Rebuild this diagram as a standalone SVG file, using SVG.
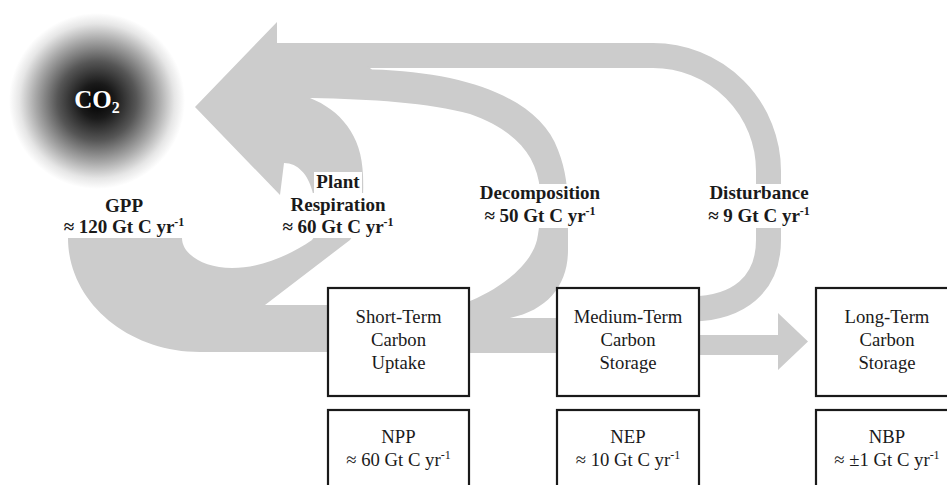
<svg xmlns="http://www.w3.org/2000/svg" width="947" height="485" viewBox="0 0 947 485">
<defs>
<radialGradient id="co2g" cx="0.5" cy="0.5" r="0.5">
<stop offset="0" stop-color="#000"/>
<stop offset="0.2" stop-color="#1a1a1a"/>
<stop offset="0.45" stop-color="#565656"/>
<stop offset="0.7" stop-color="#a8a8a8"/>
<stop offset="0.88" stop-color="#e6e6e6"/>
<stop offset="1" stop-color="#fff"/>
</radialGradient>
<style>
.flow{fill:#cccccc;stroke:none}
.flowline{fill:none;stroke:#cccccc}
.lblbg{fill:#fff;stroke:none}
.lbl{font-family:"Liberation Serif","Times New Roman",serif;font-weight:bold;font-size:19px;fill:#1a1a1a;text-anchor:middle}
.box{fill:#fff;stroke:#1a1a1a;stroke-width:2.2}
.bt{font-family:"Liberation Serif","Times New Roman",serif;font-size:18.7px;fill:#1a1a1a;text-anchor:middle}
.sup{font-size:12px}
</style>
</defs>
<rect x="0" y="0" width="947" height="485" fill="#fff"/>

<g id="node-co2">
<circle cx="97" cy="101" r="88" fill="url(#co2g)"/>
<text x="97" y="108" font-family="Liberation Serif, Times New Roman, serif" font-weight="bold" font-size="25" fill="#fff" text-anchor="middle">CO<tspan font-size="16" dy="5">2</tspan></text>
</g>

<g id="connectors">
<!-- GPP + plant respiration + main arrowhead -->
<path id="flow-gpp-respiration" class="flow" d="M68 238 L182 238 C182 254.6 204.4 268 232 268 C262 268 292 254 312 240 C322 228 316 205 312 190 C308 175 298 163 284 163 L280 195 L195 107 L277 22 L277 43 L312 43 L312 98 L310 98 C340 110 362 135 363 175 C364 205 362 225 350 240 L265 305 L335 305 L335 352 L200 352 C127 352 68 301 68 238 Z"/>
<!-- disturbance -->
<path id="flow-disturbance" class="flowline" stroke-width="25" d="M277 55.5 H653 A115.5 115.5 0 0 1 768.5 171 V240 C768.5 285 738 308 692 309"/>
<!-- decomposition -->
<path id="flow-decomposition" class="flow" d="M300 66 L367 66 L372 69.5 C470 72 540 100 558 150 C566 170 568 190 568 210 L568 250 C568 285 548 310 510 318 L465 318 L465 303 C495 292 530 268 537 240 C541 220 541 200 540 190 C537 155 515 130 470 114 C430 103 370 99 312 98 L300 98 Z"/>
<!-- short to medium -->
<rect id="flow-short-medium" class="flow" x="465" y="318" width="97" height="35"/>
<!-- medium to long -->
<polygon id="flow-medium-long" class="flow" points="695,335 778,335 778,313 808,341.5 778,370 778,355 695,355"/>

<g id="label-gpp">
<text class="lbl" x="124" y="212">GPP</text>
<text class="lbl" x="124" y="233">≈ 120 Gt C yr<tspan class="sup" dy="-7">-1</tspan></text>
</g>
<g id="label-respiration">
<rect class="lblbg" x="314" y="172" width="48" height="21"/>
<rect class="lblbg" x="287" y="193" width="102" height="22"/>
<rect class="lblbg" x="278" y="215" width="120" height="23"/>
<text class="lbl" x="338" y="188">Plant</text>
<text class="lbl" x="338" y="211">Respiration</text>
<text class="lbl" x="338" y="233">≈ 60 Gt C yr<tspan class="sup" dy="-7">-1</tspan></text>
</g>
<g id="label-decomposition">
<rect class="lblbg" x="476" y="184" width="128" height="44"/>
<text class="lbl" x="540" y="199">Decomposition</text>
<text class="lbl" x="540" y="222">≈ 50 Gt C yr<tspan class="sup" dy="-7">-1</tspan></text>
</g>
<g id="label-disturbance">
<rect class="lblbg" x="704" y="184" width="110" height="44"/>
<text class="lbl" x="759" y="199">Disturbance</text>
<text class="lbl" x="759" y="222">≈ 9 Gt C yr<tspan class="sup" dy="-7">-1</tspan></text>
</g>
</g>

<g id="node-short-term">
<rect class="box" x="328" y="288" width="141" height="108"/>
<text class="bt" x="398.5" y="323">Short-Term</text>
<text class="bt" x="398.5" y="346">Carbon</text>
<text class="bt" x="398.5" y="369">Uptake</text>
</g>
<g id="node-medium-term">
<rect class="box" x="557" y="288" width="142" height="108"/>
<text class="bt" x="628" y="323">Medium-Term</text>
<text class="bt" x="628" y="346">Carbon</text>
<text class="bt" x="628" y="369">Storage</text>
</g>
<g id="node-long-term">
<rect class="box" x="816" y="288" width="142" height="108"/>
<text class="bt" x="887" y="323">Long-Term</text>
<text class="bt" x="887" y="346">Carbon</text>
<text class="bt" x="887" y="369">Storage</text>
</g>
<g id="node-npp">
<rect class="box" x="328" y="410" width="141" height="90"/>
<text class="bt" x="398.5" y="443">NPP</text>
<text class="bt" x="398.5" y="466">≈ 60 Gt C yr<tspan class="sup" dy="-7">-1</tspan></text>
</g>
<g id="node-nep">
<rect class="box" x="557" y="410" width="142" height="90"/>
<text class="bt" x="628" y="443">NEP</text>
<text class="bt" x="628" y="466">≈ 10 Gt C yr<tspan class="sup" dy="-7">-1</tspan></text>
</g>
<g id="node-nbp">
<rect class="box" x="816" y="410" width="142" height="90"/>
<text class="bt" x="887" y="443">NBP</text>
<text class="bt" x="887" y="466">≈ ±1 Gt C yr<tspan class="sup" dy="-7">-1</tspan></text>
</g>
</svg>
